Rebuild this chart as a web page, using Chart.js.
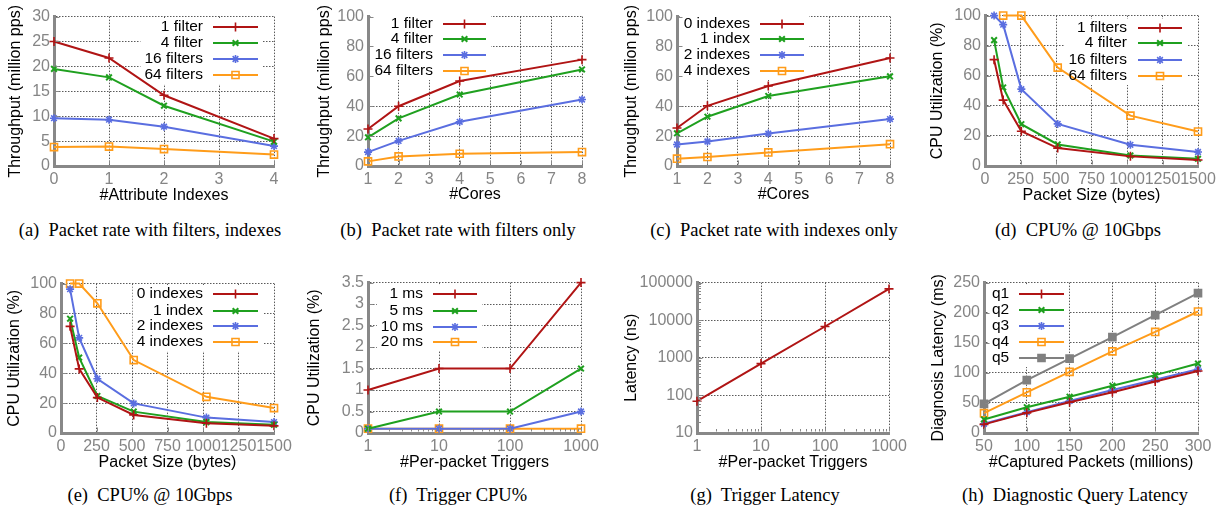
<!DOCTYPE html>
<html>
<head>
<meta charset="utf-8">
<script src="https://cdn.jsdelivr.net/npm/chart.js@4.4.1/dist/chart.umd.min.js"></script>
<style>
  body { margin: 0; background: #fff; width: 1225px; height: 508px; position: relative; overflow: hidden; }
  canvas { position: absolute; }
  .cap { position: absolute; font: 18.5px "Liberation Serif", "Times New Roman", serif; white-space: pre;
         transform: translateX(-50%); line-height: 22px; color: #000; }
</style>
</head>
<body>
<script>
"use strict";

// ---- data ----
const attrIndexes = [0, 1, 2, 4];
const aFilter1  = [25.0, 21.7, 14.2, 5.5];
const aFilter4  = [19.5, 17.8, 12.1, 4.9];
const aFilter16 = [9.6, 9.3, 7.9, 4.0];
const aFilter64 = [3.8, 3.9, 3.4, 2.3];

const cores = [1, 2, 4, 8];
const bFilter1  = [24.8, 40.0, 56.9, 71.2];
const bFilter4  = [19.2, 31.9, 47.8, 64.6];
const bFilter16 = [9.3, 16.8, 29.6, 44.5];
const bFilter64 = [3.1, 6.4, 8.2, 9.3];

const cIndex0 = [25.4, 40.3, 53.5, 72.3];
const cIndex1 = [21.9, 33.0, 46.9, 60.0];
const cIndex2 = [14.4, 16.4, 21.7, 31.4];
const cIndex4 = [4.9, 6.0, 9.1, 14.6];

const packetSizes = [64, 128, 256, 512, 1024, 1500];
const dFilter1  = [70.7, 43.8, 23.1, 11.9, 6.4, 4.0];
const dFilter4  = [83.7, 52.2, 27.8, 14.3, 7.0, 4.8];
const dFilter16 = [100, 94.0, 51.1, 28.0, 14.1, 9.3];
const dFilter64 = [null, 100, 100, 65.4, 33.5, 22.9];

const eIndex0 = [71.4, 42.9, 23.7, 12.1, 6.6, 4.8];
const eIndex1 = [76.5, 50.5, 24.8, 14.3, 7.3, 5.5];
const eIndex2 = [96.3, 63.7, 36.3, 19.8, 10.3, 7.3];
const eIndex4 = [100, 100, 86.8, 48.8, 24.2, 16.7];

const triggers = [1, 10, 100, 1000];
const fMs1  = [1.0, 1.5, 1.5, 3.5];
const fMs5  = [0.1, 0.5, 0.5, 1.5];
const fMs10 = [0.1, 0.1, 0.1, 0.5];
const fMs20 = [0.1, 0.1, 0.1, 0.1];

const gLatency = [70, 700, 6800, 68000];

const capturedPackets = [50, 100, 150, 200, 250, 300];
const hQ1 = [14.3, 33.5, 51.0, 67.6, 85.7, 103];
const hQ2 = [22.5, 42.9, 60.4, 78.6, 96.2, 115.4];
const hQ3 = [15.4, 34.6, 53.3, 71.4, 88.5, 106];
const hQ4 = [33.0, 67.6, 101.6, 135.7, 168, 202];
const hQ5 = [48.4, 87.9, 123.6, 159.3, 196, 232.4];

const ticksA = { x: [0, 1, 2, 3, 4], y: [0, 5, 10, 15, 20, 25, 30] };
const ticksCores = { x: [1, 2, 3, 4, 5, 6, 7, 8], y: [0, 20, 40, 60, 80, 100] };
const ticksSize = { x: [0, 250, 500, 750, 1000, 1250, 1500], y: [0, 20, 40, 60, 80, 100] };
const ticksF = { x: [1, 10, 100, 1000], y: [0, 0.5, 1, 1.5, 2, 2.5, 3, 3.5] };
const ticksG = { x: [1, 10, 100, 1000], y: [10, 100, 1000, 10000, 100000] };
const ticksH = { x: [50, 100, 150, 200, 250, 300], y: [0, 50, 100, 150, 200, 250] };

// ---- style ----
const FONT = '"Liberation Sans", Arial, sans-serif';
const TICK_FS = 16;
const TITLE_FS = 16;
const KEY_FS = 15.5;
const LH = TITLE_FS * 1.2;
const TICK = "#858585";
const AX = "#888888";
const GRID = "#5a5a5a";
const PT = 12, PR = 22;

const S = {
  red:    { c: "#b01414", pt: "cross",    r: 4.5, bw: 1.6, bg: "#b01414" },
  green:  { c: "#1fa01f", pt: "crossRot", r: 4,   bw: 2,   bg: "#1fa01f" },
  blue:   { c: "#5a6ee0", pt: "star",     r: 4,   bw: 1.6, bg: "#5a6ee0" },
  orange: { c: "#ff9c1a", pt: "rect",     r: 5,   bw: 1.6, bg: "rgba(255,255,255,0)" },
  gray:   { c: "#808080", pt: "rect",     r: 5,   bw: 1.6, bg: "#808080" },
};

const keyPlugin = {
  id: "key",
  beforeDatasetsDraw(chart, args, o) {
    if (!o.rows) return;
    const ctx = chart.ctx;
    ctx.save();
    ctx.font = `${KEY_FS}px ${FONT}`;
    const w = Math.max(...chart.data.datasets.map(d => ctx.measureText(d.label).width));
    const left = o.align === "right" ? o.textX - w - 4 : o.textX - 4;
    ctx.fillStyle = "#fff";
    ctx.fillRect(left, o.rows[0] - 9, o.line[1] + 5 - left, o.rows[o.rows.length - 1] - o.rows[0] + 18);
    ctx.restore();
  },
  afterDatasetsDraw(chart, args, o) {
    if (!o.rows) return;
    const ctx = chart.ctx;
    ctx.save();
    ctx.font = `${KEY_FS}px ${FONT}`;
    ctx.textBaseline = "middle";
    ctx.textAlign = o.align;
    chart.data.datasets.forEach((d, i) => {
      const y = o.rows[i];
      ctx.fillStyle = "#000";
      ctx.fillText(d.label, o.textX, y);
      ctx.strokeStyle = d.borderColor;
      ctx.lineWidth = 2;
      ctx.beginPath();
      ctx.moveTo(o.line[0], y);
      ctx.lineTo(o.line[1], y);
      ctx.stroke();
      ctx.fillStyle = d.pointBackgroundColor;
      ctx.lineWidth = d.pointBorderWidth;
      Chart.helpers.drawPoint(ctx, { pointStyle: d.pointStyle, radius: d.pointRadius, borderWidth: d.pointBorderWidth, rotation: 0 },
        (o.line[0] + o.line[1]) / 2, y);
    });
    ctx.restore();
  },
};

function minors(min, max) {
  const out = [];
  for (let d = min; d < max; d *= 10) for (let k = 2; k <= 9; k++) out.push(d * k);
  return out;
}

const tickPlugin = {
  id: "inTicks",
  afterDraw(chart, args, o) {
    const { ctx, chartArea: ca, scales: { x, y } } = chart;
    ctx.save();
    ctx.strokeStyle = AX;
    ctx.lineWidth = 1;
    const mark = (scale, vals, len, horiz) => vals.forEach(v => {
      const p = Math.round(scale.getPixelForValue(v)) + 0.5;
      ctx.beginPath();
      if (horiz) { ctx.moveTo(p, ca.bottom - 1.5); ctx.lineTo(p, ca.bottom - 1.5 - len); }
      else { ctx.moveTo(ca.left + 1.5, p); ctx.lineTo(ca.left + 1.5 + len, p); }
      ctx.stroke();
    });
    mark(x, x.ticks.map(t => t.value), 4, true);
    mark(y, y.ticks.map(t => t.value), 4, false);
    if (o.minorX) mark(x, minors(x.min, x.max), 2.5, true);
    if (o.minorY) mark(y, minors(y.min, y.max), 2.5, false);
    ctx.restore();
  },
};

function axis(type, ticks, title, fit) {
  return {
    type,
    min: ticks[0],
    max: ticks[ticks.length - 1],
    afterBuildTicks: s => { s.ticks = ticks.map(v => ({ value: v })); },
    afterFit: fit,
    ticks: { autoSkip: false, maxRotation: 0, minRotation: 0, padding: 4, color: TICK,
             font: { family: FONT, size: TICK_FS }, callback: v => String(v) },
    grid: { color: GRID, lineWidth: 1, drawTicks: false },
    border: { color: AX, width: 3, dash: [1.5, 1.5] },
    title: { display: true, text: title, color: "#000", padding: 0,
             font: { family: FONT, size: TITLE_FS, lineHeight: 1.2 } },
  };
}

function panel(p) {
  const [l, t, r, b] = p.area;
  const cl = Math.round(p.ytX - LH / 2);
  const ct = t - PT;
  const cb = Math.round(p.xtY + LH / 2);
  const yw = l - cl, xh = cb - b;
  const cv = document.createElement("canvas");
  cv.width = r + PR - cl;
  cv.height = cb - ct;
  cv.style.left = cl + "px";
  cv.style.top = ct + "px";
  document.body.appendChild(cv);

  const key = p.key ? {
    align: p.key.align,
    textX: p.key.textX - cl,
    line: p.key.line.map(v => v - cl),
    rows: p.key.rows.map(v => v - ct),
  } : {};

  new Chart(cv, {
    type: "line",
    data: {
      datasets: p.series.map(s => {
        const st = S[s.style];
        return {
          label: s.label,
          data: p.xs.map((x, i) => ({ x, y: s.ys[i] })),
          borderColor: st.c, borderWidth: 2, tension: 0, clip: false,
          pointStyle: st.pt, pointRadius: st.r, pointBorderWidth: st.bw,
          pointBorderColor: st.c, pointBackgroundColor: st.bg,
        };
      }),
    },
    options: {
      responsive: false,
      animation: false,
      events: [],
      layout: { padding: { top: PT, right: PR, left: 0, bottom: 0 } },
      plugins: { legend: { display: false }, tooltip: { enabled: false }, key, inTicks: { minorX: p.xLog, minorY: p.yLog } },
      scales: {
        x: axis(p.xLog ? "logarithmic" : "linear", p.ticks.x, p.xTitle, s => { s.height = xh; }),
        y: axis(p.yLog ? "logarithmic" : "linear", p.ticks.y, p.yTitle, s => { s.width = yw; }),
      },
    },
    plugins: [keyPlugin, tickPlugin],
  });
}

const filterLabels = ["1 filter", "4 filter", "16 filters", "64 filters"];
const indexLabels = ["0 indexes", "1 index", "2 indexes", "4 indexes"];
const four = ["red", "green", "blue", "orange"];
const mk = (labels, arrays, styles) => arrays.map((ys, i) => ({ label: labels[i], ys, style: styles[i] }));

panel({
  area: [54, 15, 274, 166], ytX: 15.5, xtY: 195, ticks: ticksA, xs: attrIndexes,
  xTitle: "#Attribute Indexes", yTitle: "Throughput (million pps)",
  series: mk(filterLabels, [aFilter1, aFilter4, aFilter16, aFilter64], four),
  key: { align: "right", textX: 203, line: [213, 258], rows: [27, 43, 59, 75] },
});
panel({
  area: [368, 15, 582, 166], ytX: 325, xtY: 194, ticks: ticksCores, xs: cores,
  xTitle: "#Cores", yTitle: "Throughput (million pps)",
  series: mk(filterLabels, [bFilter1, bFilter4, bFilter16, bFilter64], four),
  key: { align: "right", textX: 433, line: [443, 486], rows: [24, 39, 55, 71] },
});
panel({
  area: [677, 15, 890, 166], ytX: 632, xtY: 194, ticks: ticksCores, xs: cores,
  xTitle: "#Cores", yTitle: "Throughput (million pps)",
  series: mk(indexLabels, [cIndex0, cIndex1, cIndex2, cIndex4], four),
  key: { align: "right", textX: 750, line: [760, 804], rows: [24, 39, 55, 71] },
});
panel({
  area: [985, 14, 1198, 166], ytX: 938, xtY: 195, ticks: ticksSize, xs: packetSizes,
  xTitle: "Packet Size (bytes)", yTitle: "CPU Utilization (%)",
  series: mk(["1 filters", "4 filter", "16 filters", "64 filters"], [dFilter1, dFilter4, dFilter16, dFilter64], four),
  key: { align: "right", textX: 1127, line: [1138, 1182], rows: [28, 43, 60, 76] },
});
panel({
  area: [61, 282, 274, 433], ytX: 15, xtY: 462, ticks: ticksSize, xs: packetSizes,
  xTitle: "Packet Size (bytes)", yTitle: "CPU Utilization (%)",
  series: mk(indexLabels, [eIndex0, eIndex1, eIndex2, eIndex4], four),
  key: { align: "right", textX: 203, line: [213, 258], rows: [294, 311, 326, 342] },
});
panel({
  area: [368, 281, 581, 433], ytX: 315, xtY: 462, ticks: ticksF, xs: triggers, xLog: true,
  xTitle: "#Per-packet Triggers", yTitle: "CPU Utilization (%)",
  series: mk(["1 ms", "5 ms", "10 ms", "20 ms"], [fMs1, fMs5, fMs10, fMs20], four),
  key: { align: "right", textX: 423, line: [433, 477], rows: [294, 311, 327, 342] },
});
panel({
  area: [697, 281, 889, 433], ytX: 632, xtY: 462, ticks: ticksG, xs: triggers, xLog: true, yLog: true,
  xTitle: "#Per-packet Triggers", yTitle: "Latency (ns)",
  series: mk(["latency"], [gLatency], ["red"]),
});
panel({
  area: [984, 281, 1198, 433], ytX: 939, xtY: 462, ticks: ticksH, xs: capturedPackets,
  xTitle: "#Captured Packets (millions)", yTitle: "Diagnosis Latency (ms)",
  series: mk(["q1", "q2", "q3", "q4", "q5"], [hQ1, hQ2, hQ3, hQ4, hQ5], ["red", "green", "blue", "orange", "gray"]),
  key: { align: "left", textX: 992, line: [1019, 1064], rows: [294, 310, 326, 342, 358] },
});

const captions = [
  ["(a)  Packet rate with filters, indexes", 150, 230],
  ["(b)  Packet rate with filters only", 458, 230],
  ["(c)  Packet rate with indexes only", 774, 230],
  ["(d)  CPU% @ 10Gbps", 1078, 230],
  ["(e)  CPU% @ 10Gbps", 150, 495],
  ["(f)  Trigger CPU%", 458, 495],
  ["(g)  Trigger Latency", 765, 495],
  ["(h)  Diagnostic Query Latency", 1075, 495],
];
captions.forEach(([text, x, y]) => {
  const d = document.createElement("div");
  d.className = "cap";
  d.textContent = text;
  d.style.left = x + "px";
  d.style.top = (y - 11) + "px";
  document.body.appendChild(d);
});
</script>
</body>
</html>
